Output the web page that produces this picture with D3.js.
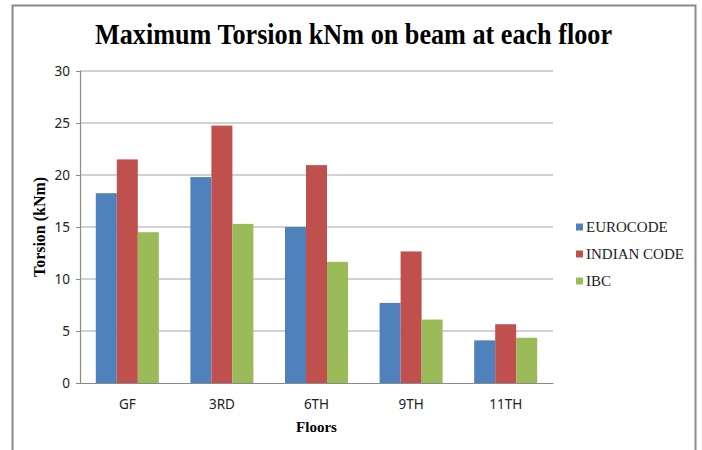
<!DOCTYPE html>
<html>
<head>
<meta charset="utf-8">
<script src="https://cdn.jsdelivr.net/npm/d3@7"></script>
<style>
  body { margin: 0; background: #fff; }
  .tick text { font-family: "Liberation Sans Narrow", "Noto Sans", sans-serif; font-size: 13.5px; fill: #222; }
  .serif { font-family: "Liberation Serif", "Times New Roman", "DejaVu Serif", serif; }
</style>
</head>
<body>
<div id="chart"></div>
<script>
// chart data
var floors = ["GF", "3RD", "6TH", "9TH", "11TH"];
var seriesNames = ["EUROCODE", "INDIAN CODE", "IBC"];
var eurocode = [18.25, 19.8, 15.0, 7.7, 4.1];
var indianCode = [21.5, 24.75, 20.95, 12.65, 5.65];
var ibc = [14.5, 15.3, 11.65, 6.1, 4.35];
var yTicks = [0, 5, 10, 15, 20, 25, 30];
var colors = ["#4F81BD", "#C0504D", "#9BBB59"];

var seriesValues = [eurocode, indianCode, ibc];

var W = 702, H = 450;
var margin = { top: 71, right: 149, bottom: 67, left: 80 },
  width = W - margin.left - margin.right,
  height = H - margin.top - margin.bottom;

var svg = d3.select("#chart").append("svg")
  .attr("width", W)
  .attr("height", H);

// outer chart border (runs off the bottom)
svg.append("path")
  .attr("d", "M12.5,460V5.5H695.5V460")
  .attr("fill", "none")
  .attr("stroke", "#8a8a8a")
  .attr("stroke-width", 2);

// title
svg.append("text")
  .attr("class", "serif")
  .attr("x", 95)
  .attr("y", 44)
  .attr("textLength", 517)
  .attr("lengthAdjust", "spacingAndGlyphs")
  .style("font-weight", "bold")
  .style("font-size", "30px")
  .text("Maximum Torsion kNm on beam at each floor");

var g = svg.append("g")
  .attr("transform", "translate(" + margin.left + "," + margin.top + ")");

// scales
var x0 = d3.scaleBand().domain(floors).range([0, width]).padding(0);
var gap = x0.step() * 0.334;
var x1 = d3.scaleBand().domain(seriesNames).range([gap / 2, x0.bandwidth() - gap / 2]).padding(0);
var y = d3.scaleLinear().domain([0, 30]).range([height, 0]);

// gridlines
g.append("g")
  .selectAll("line")
  .data(yTicks.filter(function (d) { return d > 0; }))
  .enter().append("line")
  .attr("x1", 0).attr("x2", width)
  .attr("y1", function (d) { return y(d); })
  .attr("y2", function (d) { return y(d); })
  .attr("stroke", "#a6a6a6")
  .attr("stroke-width", 1.2);

// bars
var groups = g.selectAll(".floor")
  .data(floors)
  .enter().append("g")
  .attr("class", "floor")
  .attr("transform", function (d) { return "translate(" + x0(d) + ",0)"; });

groups.selectAll("rect")
  .data(function (d, i) {
    return seriesNames.map(function (s, j) { return { key: s, value: seriesValues[j][i], c: colors[j] }; });
  })
  .enter().append("rect")
  .attr("x", function (d) { return x1(d.key); })
  .attr("width", x1.bandwidth())
  .attr("y", function (d) { return y(d.value); })
  .attr("height", function (d) { return height - y(d.value); })
  .attr("fill", function (d) { return d.c; });

// y axis
var yAxis = g.append("g")
  .call(d3.axisLeft(y).tickValues(yTicks).tickSize(4).tickPadding(6));
yAxis.select(".domain").attr("stroke", "#8a8a8a").attr("stroke-width", 1.2);
yAxis.selectAll(".tick line").attr("stroke", "#8a8a8a");

// x axis
var xAxis = g.append("g")
  .attr("transform", "translate(0," + height + ")")
  .call(d3.axisBottom(x0).tickSize(0).tickPadding(16));
xAxis.select(".domain").attr("stroke", "#8a8a8a").attr("stroke-width", 1.2);

// axis titles
svg.append("text")
  .attr("class", "serif")
  .attr("x", margin.left + width / 2)
  .attr("y", 432)
  .attr("text-anchor", "middle")
  .style("font-weight", "bold")
  .style("font-size", "15px")
  .text("Floors");

svg.append("text")
  .attr("class", "serif")
  .attr("transform", "translate(45,227) rotate(-90)")
  .attr("text-anchor", "middle")
  .attr("textLength", 100)
  .attr("lengthAdjust", "spacingAndGlyphs")
  .style("font-weight", "bold")
  .style("font-size", "16px")
  .text("Torsion (kNm)");

// legend
var legend = svg.append("g")
  .attr("transform", "translate(576,227)");

var items = legend.selectAll("g")
  .data(seriesNames)
  .enter().append("g")
  .attr("transform", function (d, i) { return "translate(0," + (i * 27) + ")"; });

items.append("rect")
  .attr("x", 0).attr("y", -3.5)
  .attr("width", 7).attr("height", 7)
  .attr("fill", function (d, i) { return colors[i]; });

items.append("text")
  .attr("class", "serif")
  .attr("x", 10)
  .attr("y", 5)
  .style("font-size", "15px")
  .style("fill", "#222")
  .text(function (d) { return d; });
</script>
</body>
</html>
